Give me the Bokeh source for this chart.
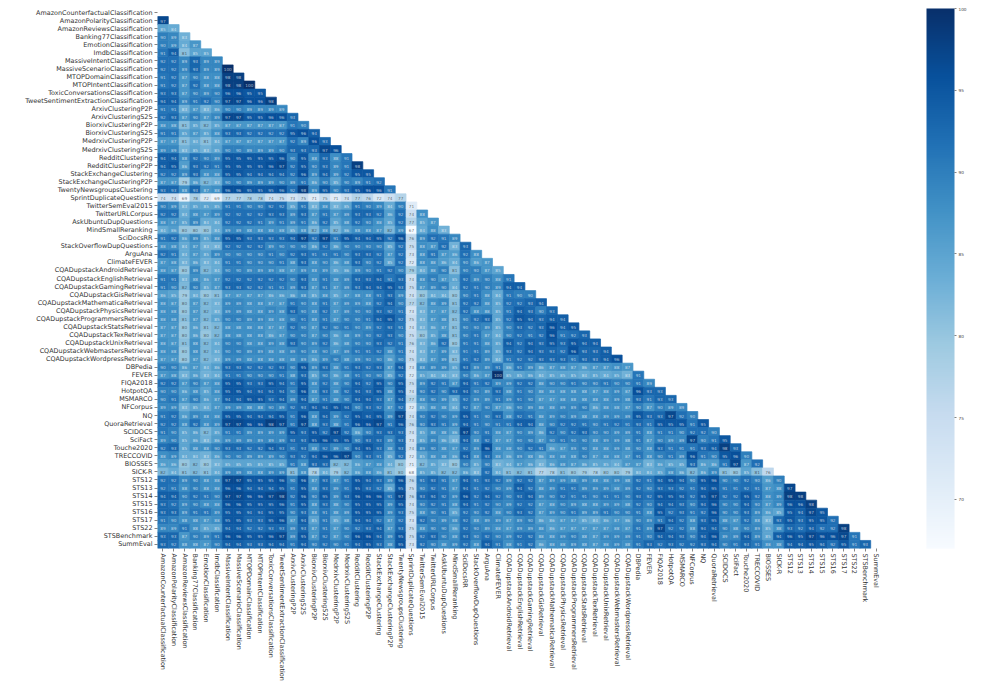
from bokeh.plotting import figure
from bokeh.embed import file_html
from bokeh.resources import INLINE
from bokeh.models import ColumnDataSource, LinearColorMapper, ColorBar, FixedTicker
from bokeh.core.properties import value
from bokeh.palettes import Blues256

categories = """AmazonCounterfactualClassification AmazonPolarityClassification AmazonReviewsClassification
Banking77Classification EmotionClassification ImdbClassification MassiveIntentClassification
MassiveScenarioClassification MTOPDomainClassification MTOPIntentClassification ToxicConversationsClassification
TweetSentimentExtractionClassification ArxivClusteringP2P ArxivClusteringS2S BiorxivClusteringP2P BiorxivClusteringS2S
MedrxivClusteringP2P MedrxivClusteringS2S RedditClustering RedditClusteringP2P StackExchangeClustering
StackExchangeClusteringP2P TwentyNewsgroupsClustering SprintDuplicateQuestions TwitterSemEval2015 TwitterURLCorpus
AskUbuntuDupQuestions MindSmallReranking SciDocsRR StackOverflowDupQuestions ArguAna ClimateFEVER
CQADupstackAndroidRetrieval CQADupstackEnglishRetrieval CQADupstackGamingRetrieval CQADupstackGisRetrieval
CQADupstackMathematicaRetrieval CQADupstackPhysicsRetrieval CQADupstackProgrammersRetrieval CQADupstackStatsRetrieval
CQADupstackTexRetrieval CQADupstackUnixRetrieval CQADupstackWebmastersRetrieval CQADupstackWordpressRetrieval
DBPedia FEVER FIQA2018 HotpotQA MSMARCO NFCorpus NQ QuoraRetrieval SCIDOCS SciFact Touche2020 TRECCOVID BIOSSES
SICK-R STS12 STS13 STS14 STS15 STS16 STS17 STS22 STSBenchmark SummEval""".split()

r01 = [97]
r02 = [85,84]
r03 = [90,89,83]
r04 = [90,89,84,87]
r05 = [91,94,81,85,85]
r06 = [92,92,89,93,89,89]
r07 = [92,92,89,93,89,89,100]
r08 = [91,92,87,90,88,88,98,98]
r09 = [91,92,87,92,88,88,98,98,100]
r10 = [93,93,87,90,89,90,96,96,95,95]
r11 = [94,94,89,91,92,90,97,97,96,96,98]
r12 = [91,91,83,87,83,86,90,90,89,89,89,89]
r13 = [92,93,87,90,87,89,97,97,95,95,96,96,93]
r14 = [88,88,81,85,82,85,87,87,87,87,87,87,91,90]
r15 = [91,91,85,87,85,88,93,93,92,92,92,92,95,96,94]
r16 = [87,87,81,84,81,84,87,87,87,87,87,87,92,89,96,93]
r17 = [89,89,83,85,83,85,90,90,89,89,89,90,93,93,93,97,96]
r18 = [94,94,88,92,90,89,95,95,95,95,95,96,90,95,88,93,88,91]
r19 = [94,95,86,93,92,91,95,95,95,95,96,97,92,95,90,93,89,91,98]
r20 = [92,92,89,93,88,88,95,95,94,94,94,94,92,96,89,94,89,92,95,95]
r21 = [87,87,79,86,82,83,90,90,89,89,89,90,89,91,86,90,85,90,89,91,92]
r22 = [93,93,88,93,87,88,96,96,95,95,95,96,92,98,89,95,90,93,95,96,96,91]
r23 = [74,74,69,78,72,69,77,77,78,78,74,75,73,75,71,75,71,74,77,76,72,74,77]
r24 = [90,89,83,85,85,85,91,91,90,90,92,92,85,91,83,88,83,85,91,90,89,84,90,71]
r25 = [92,92,84,88,87,89,92,92,92,92,93,93,89,93,87,91,87,89,93,93,92,86,92,74,88]
r26 = [88,87,85,89,84,84,92,92,92,91,89,91,89,91,86,92,85,88,92,90,88,85,92,77,85,87]
r27 = [84,86,80,80,80,84,89,89,88,88,88,88,85,88,82,88,82,86,88,88,87,82,89,67,84,88,83]
r28 = [91,92,86,89,85,88,95,95,93,93,93,93,94,97,92,97,91,95,94,94,95,92,96,76,89,92,91,89]
r29 = [88,88,84,87,83,83,92,92,92,92,89,90,90,90,86,92,86,90,90,90,90,85,92,75,88,87,92,83,93]
r30 = [92,91,84,87,85,89,90,90,90,90,91,90,92,93,91,91,91,90,93,93,92,87,92,73,88,91,87,86,92,88]
r31 = [87,88,83,86,83,84,91,91,90,90,90,91,88,93,88,90,86,88,93,90,92,85,92,72,88,88,86,84,90,86,87]
r32 = [88,87,80,89,82,84,90,90,89,89,89,88,87,89,88,89,85,86,89,90,91,92,90,79,84,88,90,81,90,90,87,85]
r33 = [91,91,83,88,86,87,92,92,92,92,92,92,90,93,88,91,88,89,93,93,94,91,93,74,88,90,87,85,92,89,90,88,91]
r34 = [91,90,82,90,85,87,93,93,92,92,91,91,89,93,87,91,87,89,93,94,94,95,93,75,87,89,90,84,92,91,90,89,94,94]
r35 = [86,85,79,84,80,81,87,87,87,87,86,86,86,88,85,88,85,87,88,88,91,93,89,74,80,84,84,80,90,91,88,84,91,90,90]
r36 = [88,87,80,87,82,83,89,89,88,88,87,87,91,90,88,91,87,89,89,88,92,94,90,77,82,88,89,81,92,92,88,85,92,92,93,94]
r37 = [88,88,80,87,82,83,89,89,88,88,89,88,93,90,88,92,87,89,90,90,93,92,91,73,83,87,87,82,92,88,88,85,91,94,93,90,93]
r38 = [88,88,81,87,82,85,90,90,89,89,88,88,90,91,88,91,87,90,90,91,94,95,92,75,83,87,88,81,90,92,93,85,92,95,94,93,94,94]
r39 = [87,87,80,86,81,82,88,88,88,88,87,87,92,90,87,92,90,91,90,89,92,93,91,74,83,86,87,81,90,90,89,85,90,93,92,93,96,94,95]
r40 = [87,87,80,86,80,82,88,88,88,88,86,87,90,90,87,90,86,88,89,90,92,93,90,75,80,85,88,81,90,91,87,84,90,92,91,92,96,91,92,93]
r41 = [88,87,81,88,82,84,90,90,88,88,89,88,93,90,89,92,86,88,90,90,93,92,91,76,83,86,92,80,91,91,88,85,94,92,94,93,95,93,95,94,94]
r42 = [88,88,80,88,82,84,90,90,89,89,88,88,89,90,88,90,87,89,91,91,92,88,91,74,83,87,89,83,91,91,89,85,93,92,94,93,93,92,96,93,93,94]
r43 = [87,87,80,87,82,83,89,89,88,88,88,88,88,89,86,89,90,88,89,90,90,86,90,75,83,87,89,81,91,92,89,84,91,92,92,93,93,93,91,93,93,94,96]
r44 = [90,90,86,87,84,86,93,93,92,92,92,93,90,95,89,93,88,91,93,92,93,87,94,73,88,89,89,85,93,89,89,91,86,91,89,86,87,88,87,86,87,87,88,87]
r45 = [87,88,83,86,83,84,91,91,90,90,90,91,88,93,85,90,86,88,91,90,90,85,92,72,85,84,84,83,90,86,87,100,85,85,86,84,85,85,85,84,85,84,85,83,91]
r46 = [92,92,87,90,87,88,95,95,93,93,95,94,91,95,88,92,88,90,94,92,95,90,95,75,89,92,91,87,94,91,92,89,89,92,92,88,90,90,91,90,90,91,90,90,91,89]
r47 = [90,90,86,88,85,88,95,95,94,94,94,94,90,96,88,93,88,92,94,93,95,88,95,74,90,92,90,93,94,90,89,93,88,91,90,88,88,88,88,88,87,88,89,87,96,93,93]
r48 = [90,91,87,90,86,87,94,94,95,95,93,94,89,94,87,91,88,90,94,94,93,87,94,77,88,90,89,85,92,89,89,91,89,91,90,87,87,88,88,88,88,88,89,88,93,91,93,93]
r49 = [89,89,83,85,84,87,89,89,88,88,90,89,92,93,94,94,95,94,90,93,92,87,92,72,85,88,88,84,92,87,90,87,86,90,89,88,88,89,89,90,86,88,88,87,90,87,90,89,89]
r50 = [91,92,86,89,88,88,95,95,94,94,94,95,91,96,88,94,89,92,95,94,95,89,97,74,90,92,90,89,95,91,90,93,88,92,91,88,89,90,89,88,88,89,89,89,95,93,93,97,92,90]
r51 = [92,92,88,92,88,89,97,97,96,96,98,97,91,97,88,93,88,91,96,96,97,91,96,76,90,93,91,89,94,91,90,91,91,94,94,88,90,92,92,91,90,91,92,91,93,91,95,95,95,91,95]
r52 = [91,90,85,86,82,85,91,91,89,89,89,89,95,93,95,92,97,92,86,90,93,93,93,74,85,88,88,86,97,90,91,88,87,90,89,86,92,90,92,93,90,90,89,89,91,88,91,91,90,92,92,90]
r53 = [89,90,85,86,83,86,89,89,89,89,89,89,93,93,95,96,95,95,90,93,93,89,93,73,85,89,86,83,94,88,92,87,87,90,90,87,90,91,90,90,88,89,89,88,91,87,90,89,89,97,90,91,95]
r54 = [92,93,85,88,88,90,93,93,92,92,94,93,91,93,88,92,89,90,94,95,93,88,93,74,89,90,88,87,92,89,96,88,88,90,92,91,86,87,89,90,88,88,89,88,90,88,93,91,91,91,93,94,98,93]
r55 = [88,89,84,84,83,86,90,90,89,89,89,90,93,92,94,96,96,97,90,93,91,85,92,72,85,88,88,86,94,88,93,88,86,89,88,86,88,88,88,90,87,88,88,87,91,88,90,91,89,96,91,90,95,96,90]
r56 = [86,86,80,82,80,83,85,85,85,85,85,85,91,88,93,93,82,82,86,87,88,84,80,71,82,85,83,80,90,85,90,83,84,87,86,83,86,88,87,86,85,85,84,87,87,83,86,85,85,93,86,86,91,97,87,92]
r57 = [82,84,81,82,81,84,89,89,88,88,89,89,81,88,78,84,79,82,86,88,86,81,80,68,85,85,82,82,86,83,92,84,81,82,81,77,78,81,80,79,78,80,80,79,84,84,85,88,86,82,86,89,81,80,85,81,76]
r58 = [92,92,89,90,88,88,97,97,95,95,95,96,90,96,87,93,87,91,95,94,93,89,96,76,91,93,91,87,94,91,93,92,89,92,92,87,89,89,88,89,88,88,89,88,92,91,94,95,94,90,95,96,90,90,92,90,86,90]
r59 = [92,91,88,90,88,88,96,96,94,94,94,95,91,95,88,93,89,91,95,93,92,85,95,75,90,92,91,87,94,91,92,90,89,94,92,88,89,91,91,89,89,89,88,89,92,90,93,93,92,91,94,95,91,91,92,91,87,88,97]
r60 = [94,94,90,92,91,90,97,97,96,96,97,98,92,96,90,95,89,93,96,96,96,91,97,76,93,94,92,89,96,92,94,92,90,93,94,89,90,92,91,91,90,91,91,90,93,92,95,95,94,92,95,97,92,92,95,92,88,89,98,98]
r61 = [93,92,89,90,88,88,96,96,95,95,95,96,91,95,88,93,88,90,95,95,95,89,95,74,90,92,91,88,94,91,92,90,89,92,92,87,88,90,89,88,88,89,89,88,92,90,94,94,93,90,94,96,90,90,94,90,87,89,96,96,98]
r62 = [93,93,89,91,91,89,95,95,94,94,95,95,90,93,88,91,88,89,95,95,95,89,93,75,88,90,91,85,92,90,92,88,90,93,92,87,89,90,91,89,89,91,90,90,91,88,95,92,93,91,92,96,90,90,93,89,86,85,95,94,97,95]
r63 = [91,90,88,88,87,88,95,95,93,93,95,96,87,94,85,91,85,88,94,94,92,87,92,73,92,90,89,88,92,88,89,89,87,89,90,86,86,87,87,85,84,86,87,86,90,89,91,94,92,88,93,95,88,87,92,88,83,93,95,93,95,95,92]
r64 = [89,89,91,88,85,85,94,94,92,92,93,93,89,93,87,91,87,90,92,93,94,87,93,75,88,90,90,86,92,90,89,88,87,89,89,88,86,87,87,87,87,87,88,87,91,89,97,92,92,88,94,94,90,88,90,89,85,88,93,92,94,92,92,98]
r65 = [93,93,87,90,89,91,96,96,95,95,96,97,89,95,87,92,87,90,96,96,94,89,95,75,92,93,90,88,93,90,92,90,89,92,92,88,88,89,90,88,87,89,89,89,91,90,94,94,93,90,94,96,89,89,94,89,85,94,96,95,97,96,96,97,91]
r66 = [93,92,88,88,87,90,94,94,93,93,94,94,91,94,90,92,90,91,94,95,93,88,95,73,92,90,88,89,92,88,94,91,88,91,92,86,88,88,89,88,87,88,89,88,91,93,92,93,92,92,93,94,90,91,93,91,88,88,94,94,95,94,92,95,91,93]

rows = [r01,r02,r03,r04,r05,r06,r07,r08,r09,r10,r11,r12,r13,r14,r15,r16,r17,r18,r19,r20,r21,r22,
        r23,r24,r25,r26,r27,r28,r29,r30,r31,r32,r33,r34,r35,r36,r37,r38,r39,r40,r41,r42,r43,r44,
        r45,r46,r47,r48,r49,r50,r51,r52,r53,r54,r55,r56,r57,r58,r59,r60,r61,r62,r63,r64,r65,r66]
cbar_ticks = [70,75,80,85,90,95,100]
VMIN, VMAX = 67, 100

palette = list(reversed(Blues256))

def lum(hexc):
    cs = [int(hexc[i:i+2],16)/255 for i in (1,3,5)]
    cs = [c/12.92 if c<=0.03928 else ((c+0.055)/1.055)**2.4 for c in cs]
    return 0.2126*cs[0]+0.7152*cs[1]+0.0722*cs[2]

xs, ys, vals, labels, tcol = [], [], [], [], []
for i, row in enumerate(rows):
    assert len(row) == i+1, (i+1, len(row))
    for j, v in enumerate(row):
        xs.append(categories[j]); ys.append(categories[i+1]); vals.append(v); labels.append(str(v))
        c = palette[min(255, int((v-VMIN)/(VMAX-VMIN)*256))]
        tcol.append("#262626" if lum(c) > 0.408 else "#ffffff")

src = ColumnDataSource(dict(x=xs, y=ys, v=vals, t=labels, c=tcol))
mapper = LinearColorMapper(palette=palette, low=VMIN, high=VMAX)

p = figure(x_range=categories, y_range=categories[::-1], frame_width=724, frame_height=540,
           width=973, height=684, min_border_left=157, min_border_top=8, min_border_right=0, min_border_bottom=0,
           toolbar_location=None, output_backend="svg", outline_line_color=None)
p.rect("x","y",width=1,height=1,source=src,fill_color={"field":"v","transform":mapper},line_color={"field":"v","transform":mapper},line_width=0.7)
p.text("x","y",text="t",source=src,text_color="c",text_alpha=0.65,text_font=value("DejaVu Sans"),text_font_size="4.2px",
       text_align="center",text_baseline="middle")
p.grid.visible=False
for ax in (p.xaxis[0], p.yaxis[0]):
    ax.axis_line_color=None
    ax.major_tick_out=3; ax.major_tick_in=0; ax.major_tick_line_width=0.6; ax.major_tick_line_color="#333333"
    ax.major_label_text_font="DejaVu Sans"; ax.major_label_text_font_size="6.45px"; ax.major_label_text_color="#333333"
    ax.major_label_standoff=2
p.xaxis[0].major_label_orientation="vertical"

cb = ColorBar(color_mapper=mapper, width=28, height=540, location=(45,0), padding=0, margin=0,
              ticker=FixedTicker(ticks=cbar_ticks), major_tick_in=0, major_tick_out=2, major_tick_line_color="#333333",
              major_tick_line_width=0.6, bar_line_color=None, label_standoff=2,
              major_label_text_font="DejaVu Sans", major_label_text_font_size="4.2px", major_label_text_color="#444444",
              border_line_color=None, background_fill_color=None)
p.add_layout(cb,"right")

open("out.html","w").write(file_html(p, INLINE))
